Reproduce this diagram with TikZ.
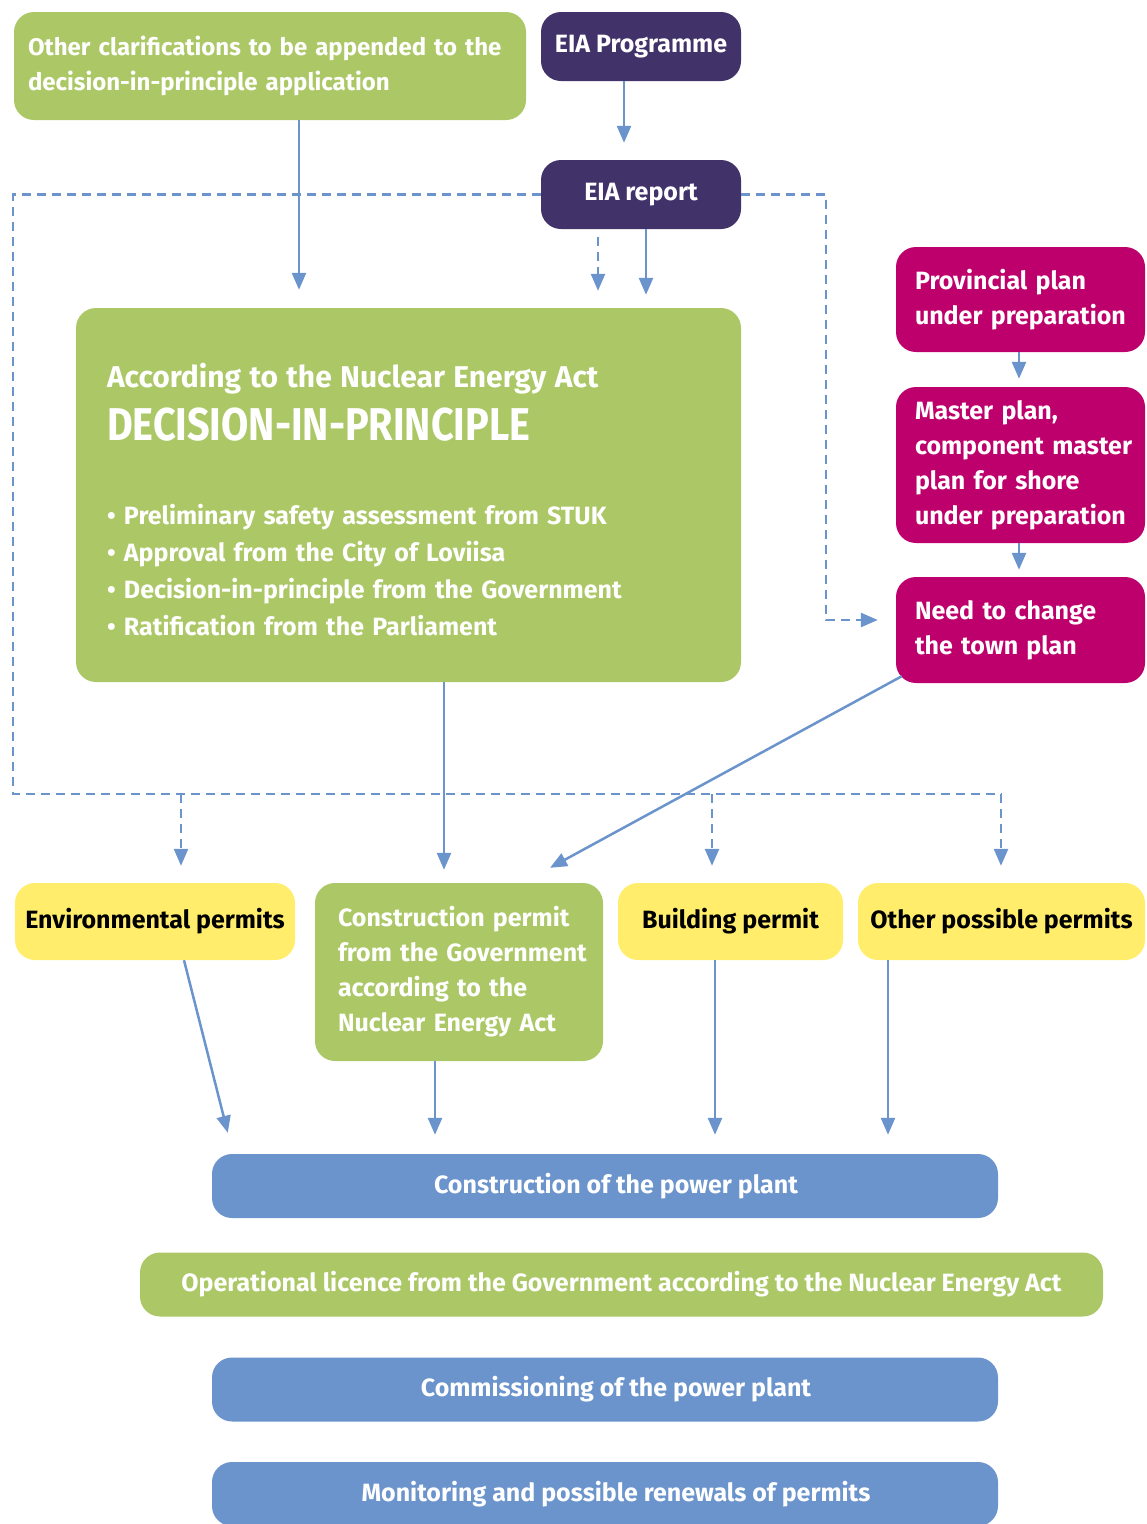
\documentclass[tikz,border=0pt]{standalone}
\usepackage{fontspec}
\setmainfont{Fira Sans}
\usetikzlibrary{arrows.meta}
\definecolor{eiagreen}{HTML}{ACC866}
\definecolor{eiapurple}{HTML}{42326A}
\definecolor{eiamagenta}{HTML}{BE006C}
\definecolor{eiayellow}{HTML}{FFED6B}
\definecolor{eiablue}{HTML}{6B94CC}

\begin{document}
\begin{tikzpicture}[x=1pt,y=-1pt,>={Triangle[length=17pt,width=14pt]},
    box/.style={rounded corners=20pt,inner ysep=0pt,text=white,font={\fontsize{25}{35}\selectfont\bfseries}},
    greenbox/.style={box,fill=eiagreen},
    purplebox/.style={box,fill=eiapurple,minimum width=200pt,minimum height=69pt},
    magbox/.style={box,fill=eiamagenta,minimum width=249pt,inner xsep=19pt,text width=211pt,align=left},
    yellowbox/.style={box,fill=eiayellow,text=black,minimum height=77pt},
    bluebox/.style={box,fill=eiablue,execute at begin node={\hspace*{22pt}}},
    flow/.style={draw=eiablue,line width=2.5pt,->},
    dflow/.style={flow,dash pattern=on 9pt off 6pt}]
    \useasboundingbox (0,0) rectangle (1147,1524);
    \clip (0,0) rectangle (1147,1524);
    %%%%%%%%%%%%%%%%%%%%%%%%%%%%%%%%%%%%%%%% top
    \node[greenbox,minimum width=512pt,minimum height=108pt,inner xsep=14pt,text width=484pt,align=left,
        font={\fontsize{24}{35}\selectfont\bfseries}] (other) at (270,66)
        {Other clarifications to be appended to the\\decision-in-principle application};
    \node[purplebox] (eiaprog) at (641,46.5) {EIA Programme};
    \node[purplebox] (eiarep) at (641,194.5) {EIA report};
    \node[greenbox,minimum width=665pt,minimum height=374pt,inner xsep=31pt,text width=603pt,align=left,
        font={\fontsize{25}{37}\selectfont\bfseries}] (dip) at (408.5,495)
        {\rule{0pt}{34pt}{\fontsize{30}{37}\selectfont According to the Nuclear Energy Act}\\[13pt]
         \scalebox{0.86}[1]{\fontsize{46}{46}\selectfont DECISION-IN-PRINCIPLE}\\[47pt]
         • Preliminary safety assessment from STUK\\
         • Approval from the City of Loviisa\\
         • Decision-in-principle from the Government\\
         • Ratification from the Parliament};
    %%%%%%%%%%%%%%%%%%%%%%%%%%%%%%%%%%%%%%%% plans
    \node[magbox,minimum height=105pt] (prov) at (1020.5,299.5) {Provincial plan\\\mbox{under preparation}};
    \node[magbox,minimum height=156pt] (master) at (1020.5,465)
        {Master plan,\\\mbox{component master}\\plan for shore\\\mbox{under preparation}};
    \node[magbox,minimum height=106pt] (town) at (1020.5,630) {Need to change\\the town plan};
    %%%%%%%%%%%%%%%%%%%%%%%%%%%%%%%%%%%%%%%% permits
    \node[yellowbox,minimum width=280pt] (env) at (155,921.5) {Environmental permits};
    \node[greenbox,minimum width=288pt,minimum height=178pt,inner xsep=23pt,text width=242pt,align=left] (cperm) at (459,972)
        {Construction permit\\\mbox{from the Government}\\according to the\\Nuclear Energy Act};
    \node[yellowbox,minimum width=225pt] (build) at (730.5,921.5) {Building permit};
    \node[yellowbox,minimum width=287pt] (othp) at (1001.5,921.5) {Other possible permits};
    %%%%%%%%%%%%%%%%%%%%%%%%%%%%%%%%%%%%%%%% stages
    \foreach \n/\s/\x/\y/\w/\t in {constr/bluebox/605/1186/786/Construction of the power plant,
        oper/greenbox/621.5/1284.5/963/Operational licence from the Government according to the Nuclear Energy Act,
        comm/bluebox/605/1389.5/786/Commissioning of the power plant,
        mon/bluebox/605/1494/786/Monitoring and possible renewals of permits}
    {
        \node[\s,minimum width=\w pt,minimum height=64pt] (\n) at (\x,\y) {\t};
    }
    %%%%%%%%%%%%%%%%%%%%%%%%%%%%%%%%%%%%%%%% connectors
    \coordinate (busL) at (13,794);
    \coordinate (busR) at (1001,794);
    \coordinate (dropE) at (181,794);
    \coordinate (dropB) at (712,794);
    \coordinate (bend) at (826,620);
    \draw[dflow,-] (eiarep.west) -| (busL) -- (busR);
    \draw[dflow,shorten >=18pt] (eiarep.east) -| (bend) -- (bend -| town.west);
    \foreach \d/\n in {dropE/env,dropB/build,busR/othp}
    {
        \draw[dflow,shorten >=17pt] (\d) -- (\d |- \n.north);
    }
    \draw[flow,shorten >=17pt] ([xshift=-17pt]eiaprog.south) -- ([xshift=-17pt]eiarep.north);
    \draw[flow,shorten >=18pt] ([xshift=29pt]other.south) -- ([xshift=29pt]other.south |- dip.north);
    \draw[dflow,shorten <=8pt,shorten >=17pt] ([xshift=-43pt]eiarep.south) -- ([xshift=-43pt]eiarep.south |- dip.north);
    \draw[flow,shorten >=13pt] ([xshift=5pt]eiarep.south) -- ([xshift=5pt]eiarep.south |- dip.north);
    \draw[flow,shorten >=8pt] ([xshift=-1.5pt]prov.south) -- ([xshift=-1.5pt]master.north);
    \draw[flow,shorten >=7pt] ([xshift=-1.5pt]master.south) -- ([xshift=-1.5pt]town.north);
    \draw[flow,shorten >=13pt] ([xshift=35.5pt]dip.south) -- ([xshift=35.5pt]dip.south |- cperm.north);
    \draw[flow] ([xshift=6pt,yshift=7pt]town.south west) -- ([xshift=91pt,yshift=15pt]cperm.north);
    \draw[flow] ([xshift=29pt]env.south) -- ([xshift=16pt,yshift=21pt]constr.north west);
    \foreach \n/\dx in {cperm/-24,build/-15.5,othp/-113.5}
    {
        \draw[flow,shorten >=19pt] ([xshift=\dx pt]\n.south) -- ([xshift=\dx pt]\n.south |- constr.north);
    }
\end{tikzpicture}
\end{document}
